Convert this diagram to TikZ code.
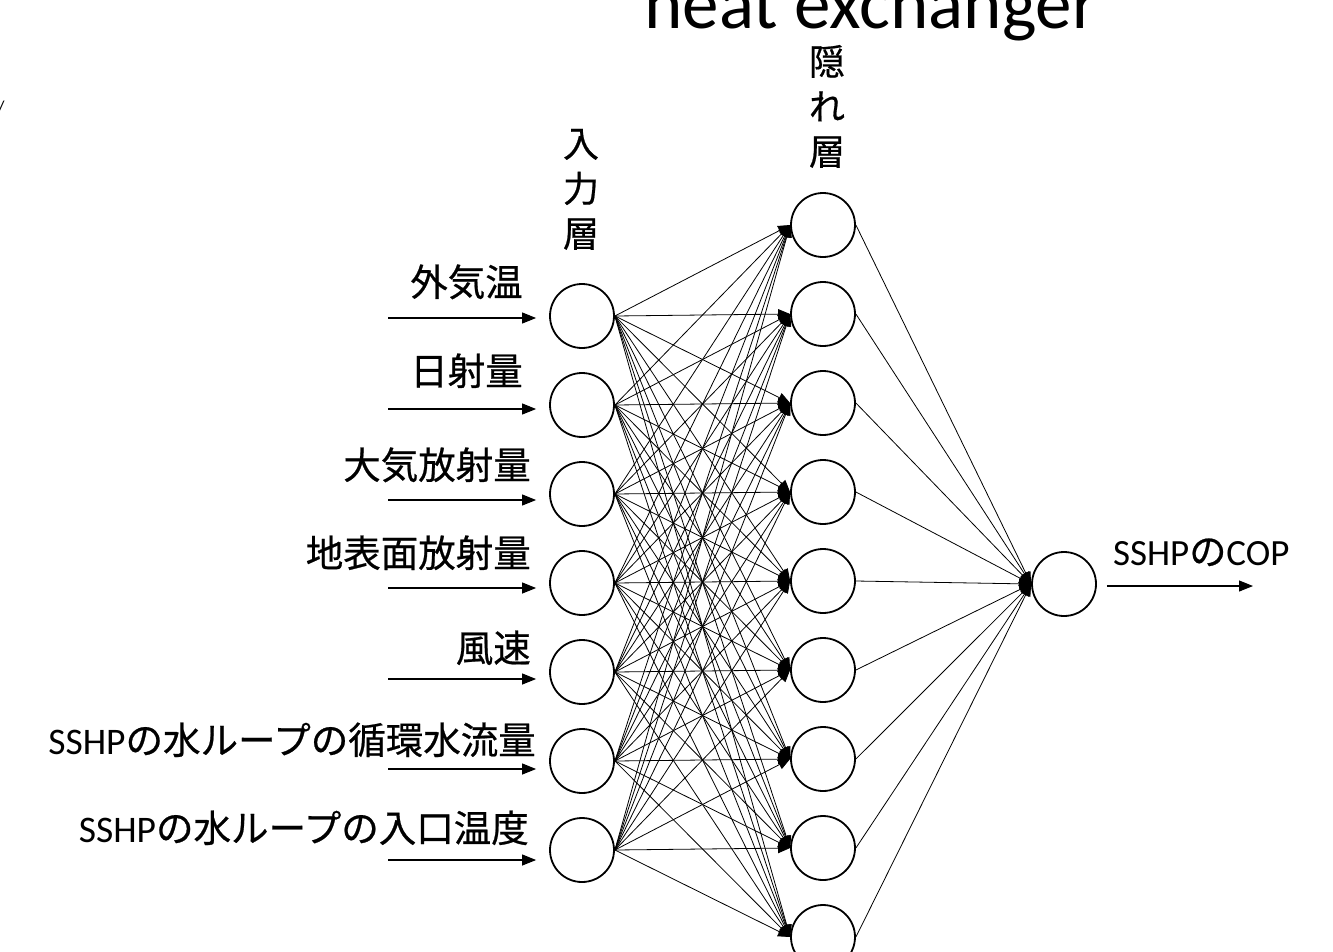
\documentclass[tikz,border=0pt]{standalone}
\usepackage{fontspec}
\setmainfont{Carlito}
\newfontfamily\jp[FakeBold=0.6]{Noto Sans CJK JP}
\usetikzlibrary{arrows.meta}
\begin{document}
\begin{tikzpicture}[x=1pt,y=-1pt,
  neuron/.style={circle,draw,line width=1.8pt,minimum size=64pt,inner sep=0pt},
  conn/.style={line width=0.8pt,-{Triangle[length=12pt,width=10pt]}},
  inarrow/.style={line width=1.1pt,-{Triangle[length=14pt,width=11pt]}},
  lab/.style={font=\fontsize{37.5}{40}\selectfont,anchor=base east,inner sep=0pt},
  vlab/.style={font=\fontsize{36}{40}\selectfont\jp,anchor=base,inner sep=0pt}]
\clip (0,0) rectangle (1333,951);
% title (cut off at the top, as in the reference)
\node[font=\fontsize{73}{80}\selectfont,anchor=base,inner sep=0pt] (title) at (871,28) {heat exchanger};
\node[font=\fontsize{18}{20}\selectfont,anchor=base,inner sep=0pt] (frag) at (1,113) {/};
% layer labels
\foreach \c/\y [count=\k] in {入/157,力/202,層/247}
  \node[vlab] (vin\k) at (581,\y) {\c};
\foreach \c/\y [count=\k] in {隠/75,れ/120,層/165}
  \node[vlab] (vhid\k) at (827,\y) {\c};
% nodes
\foreach \i/\y in {1/316,2/405,3/494,4/583,5/672,6/761,7/850}
  \node[neuron] (in\i) at (582,\y) {};
\foreach \j in {1,...,9}
  \node[neuron] (h\j) at (823,{225+89*(\j-1)}) {};
\node[neuron] (out) at (1064,584) {};
% connections
\foreach \i in {1,...,7}
  \foreach \j in {1,...,9}
    \draw[conn] (in\i.east) -- (h\j.west);
\foreach \j in {1,...,9}
  \draw[conn] (h\j.east) -- (out.west);
% input arrows
\foreach \i/\dy in {1/2,2/4,3/6,4/5,5/7,6/8,7/10}
  \draw[inarrow] ([xshift=-161pt,yshift=-\dy pt]in\i.west) -- ([xshift=-13pt,yshift=-\dy pt]in\i.west);
% output arrow
\coordinate (outend) at (1253,586);
\draw[inarrow] ([xshift=10pt,yshift=-2pt]out.east) -- (outend);
% input labels
\node[lab] (l1) at (523,296) {\jp 外気温};
\node[lab] (l2) at (523,385) {\jp 日射量};
\node[lab] (l3) at (531,479) {\jp 大気放射量};
\node[lab] (l4) at (531,567) {\jp 地表面放射量};
\node[lab] (l5) at (531,662) {\jp 風速};
\node[lab] (l6) at (536,754) {SSHP{\jp の水ループの循環水流量}};
\node[lab] (l7) at (529,842) {SSHP{\jp の水ループの入口温度}};
% output label
\node[font=\fontsize{37}{40}\selectfont,anchor=base west,inner sep=0pt] (ol) at (1113,565) {SSHP{\jp の}COP};
\end{tikzpicture}
\end{document}
